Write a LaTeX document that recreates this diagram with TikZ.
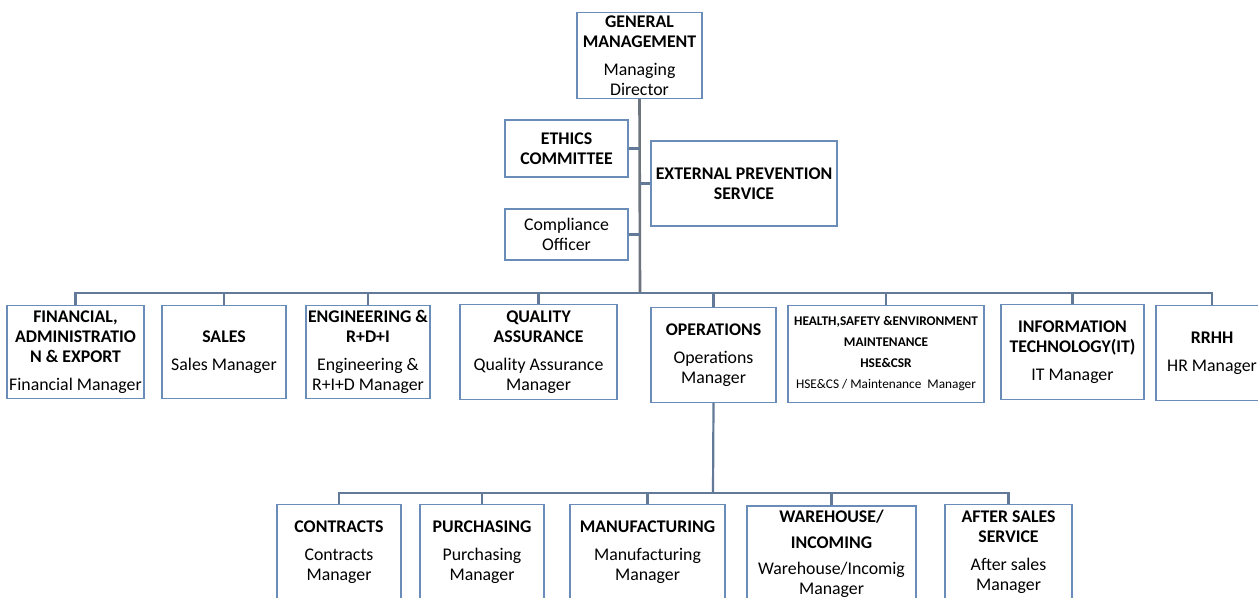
\documentclass[tikz,border=0pt]{standalone}
\usepackage{fontspec}
\setmainfont{Carlito}
\definecolor{boxblue}{HTML}{6A8CB8}
\definecolor{linkcol}{HTML}{627A98}
\definecolor{trunkcol}{HTML}{6E747E}
\begin{document}
\begin{tikzpicture}[x=1pt,y=-1pt,
  orgbox/.style={draw=boxblue, line width=1.4pt, fill=white, inner sep=0pt,
    align=center, font=\fontsize{17.8}{20}\selectfont,
    minimum width=#1},
  link/.style={draw=linkcol, line width=2.2pt},
  trunk/.style={draw=trunkcol, line width=2.6pt}]
\useasboundingbox (0,0) rectangle (1258,597);
\clip (0,0) rectangle (1258,597);
\fill[white] (0,0) rectangle (1258,597);

% top management
\node[orgbox=125, minimum height=86] (gm) at (639.5,55.5)
  {\bfseries GENERAL\\\bfseries MANAGEMENT\\[8pt]Managing\\Director};
\node[orgbox=123, minimum height=57] (ethics) at (566.5,148.5)
  {\bfseries ETHICS\\\bfseries COMMITTEE};
\node[orgbox=186, minimum height=85] (ext) at (744,183.5)
  {\bfseries EXTERNAL PREVENTION\\\bfseries SERVICE};
\node[orgbox=123, minimum height=51] (comp) at (566.5,234.5)
  {Compliance\\Officer};

% departments
\node[orgbox=137, minimum height=93] (fin) at (75.5,352)
  {\bfseries FINANCIAL,\\\bfseries ADMINISTRATIO\\\bfseries N \& EXPORT\\[8pt]Financial Manager};
\node[orgbox=124, minimum height=93] (sales) at (224,352)
  {\bfseries SALES\\[8pt]Sales Manager};
\node[orgbox=124, minimum height=93] (eng) at (368,352)
  {\bfseries ENGINEERING \&\\\bfseries R+D+I\\[8pt]Engineering \&\\R+I+D Manager};
\node[orgbox=157, minimum height=95] (qa) at (538.5,352)
  {\bfseries QUALITY\\\bfseries ASSURANCE\\[8pt]Quality Assurance\\Manager};
\node[orgbox=125, minimum height=95] (ops) at (713.5,355)
  {\bfseries OPERATIONS\\[8pt]Operations\\Manager};
\node[orgbox=196, minimum height=97, font=\fontsize{13.3}{21}\selectfont] (hse) at (886,354)
  {\bfseries HEALTH,SAFETY \&ENVIRONMENT\\\bfseries MAINTENANCE\\\bfseries HSE\&CSR\\HSE\&CS / Maintenance\ \ Manager};
\node[orgbox=143, minimum height=95] (it) at (1072.5,352)
  {\bfseries INFORMATION\\\bfseries TECHNOLOGY(IT)\\[8pt]IT Manager};
\node[orgbox=112, minimum height=95] (rrhh) at (1212,353)
  {\bfseries RRHH\\[8pt]HR Manager};

% operations units
\node[orgbox=124, minimum height=96] (contr) at (339,552.5)
  {\bfseries CONTRACTS\\[8pt]Contracts\\Manager};
\node[orgbox=124, minimum height=96] (purch) at (482,552.5)
  {\bfseries PURCHASING\\[8pt]Purchasing\\Manager};
\node[orgbox=155, minimum height=96] (manuf) at (647.5,552.5)
  {\bfseries MANUFACTURING\\[8pt]Manufacturing\\Manager};
\node[orgbox=169, minimum height=96] (wh) at (831.5,554)
  {\bfseries WAREHOUSE/\\[6pt]\bfseries INCOMING\\[6pt]Warehouse/Incomig\\Manager};
\node[orgbox=127, minimum height=96] (asales) at (1008.5,552.5)
  {\bfseries AFTER SALES\\\bfseries SERVICE\\[8pt]After sales\\Manager};

% connectors
\coordinate (bus) at (640,293);
\coordinate (opsbus) at (713,493);
\draw[trunk] (gm.south) -- (bus);
\draw[link] (ethics.east) -- (ethics.east -| bus);
\draw[link] (ext.west) -- (ext.west -| bus);
\draw[link] (comp.east) -- (comp.east -| bus);
\foreach \n in {fin,sales,eng,qa,ops,hse,it,rrhh}
  \draw[link] (bus) -| (\n.north);
\draw[link] (ops.south) -- (opsbus);
\foreach \n in {contr,purch,manuf,wh,asales}
  \draw[link] (opsbus) -| (\n.north);
\end{tikzpicture}
\end{document}
